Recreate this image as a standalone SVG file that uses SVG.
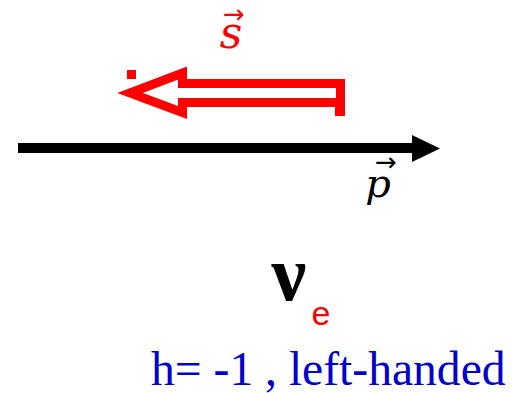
<svg xmlns="http://www.w3.org/2000/svg" width="512" height="393" viewBox="0 0 512 393">
<style>
.red{fill:#ff0000}
.lbl{font-family:"DejaVu Serif","Liberation Serif",serif;font-style:italic}
.vec{font-family:"DejaVu Sans",sans-serif;font-size:26px}
</style>
<rect width="512" height="393" fill="#ffffff"/>
<g id="spin">
<path d="M340.5,83.5 L182.5,83.5 L182.5,73 L130,93 L182.5,112.5 L182.5,102.5 L340.5,102.5 Z" fill="none" stroke="#ff0000" stroke-width="9" stroke-miterlimit="10"/>
<rect x="127" y="70" width="9" height="9" class="red"/>
<rect x="335" y="107" width="10" height="9" class="red"/>
<text x="231" y="48" class="lbl red" font-size="44" text-anchor="middle">s</text>
<text x="234" y="23" class="vec red" text-anchor="middle">→</text>
</g>
<g id="momentum">
<path d="M18,148 L413,148" stroke="#000000" stroke-width="10" fill="none"/>
<path d="M412,135 L440,148.5 L412,162 Z" fill="#000000"/>
<text x="378" y="197" class="lbl" font-size="40" text-anchor="middle" fill="#000000">p</text>
<text x="386" y="171" class="vec" text-anchor="middle" fill="#000000">→</text>
</g>
<g id="neutrino">
<text x="289" y="300" font-family="Liberation Serif, serif" font-size="78" font-weight="bold" text-anchor="middle" fill="#000000">ν</text>
<text x="321" y="325" font-family="Liberation Sans, sans-serif" font-size="34" text-anchor="middle" class="red">e</text>
</g>
<text x="151" y="385" font-family="Liberation Serif, serif" font-size="47.6" fill="#0000cc">h= -1 , left-handed</text>
</svg>
